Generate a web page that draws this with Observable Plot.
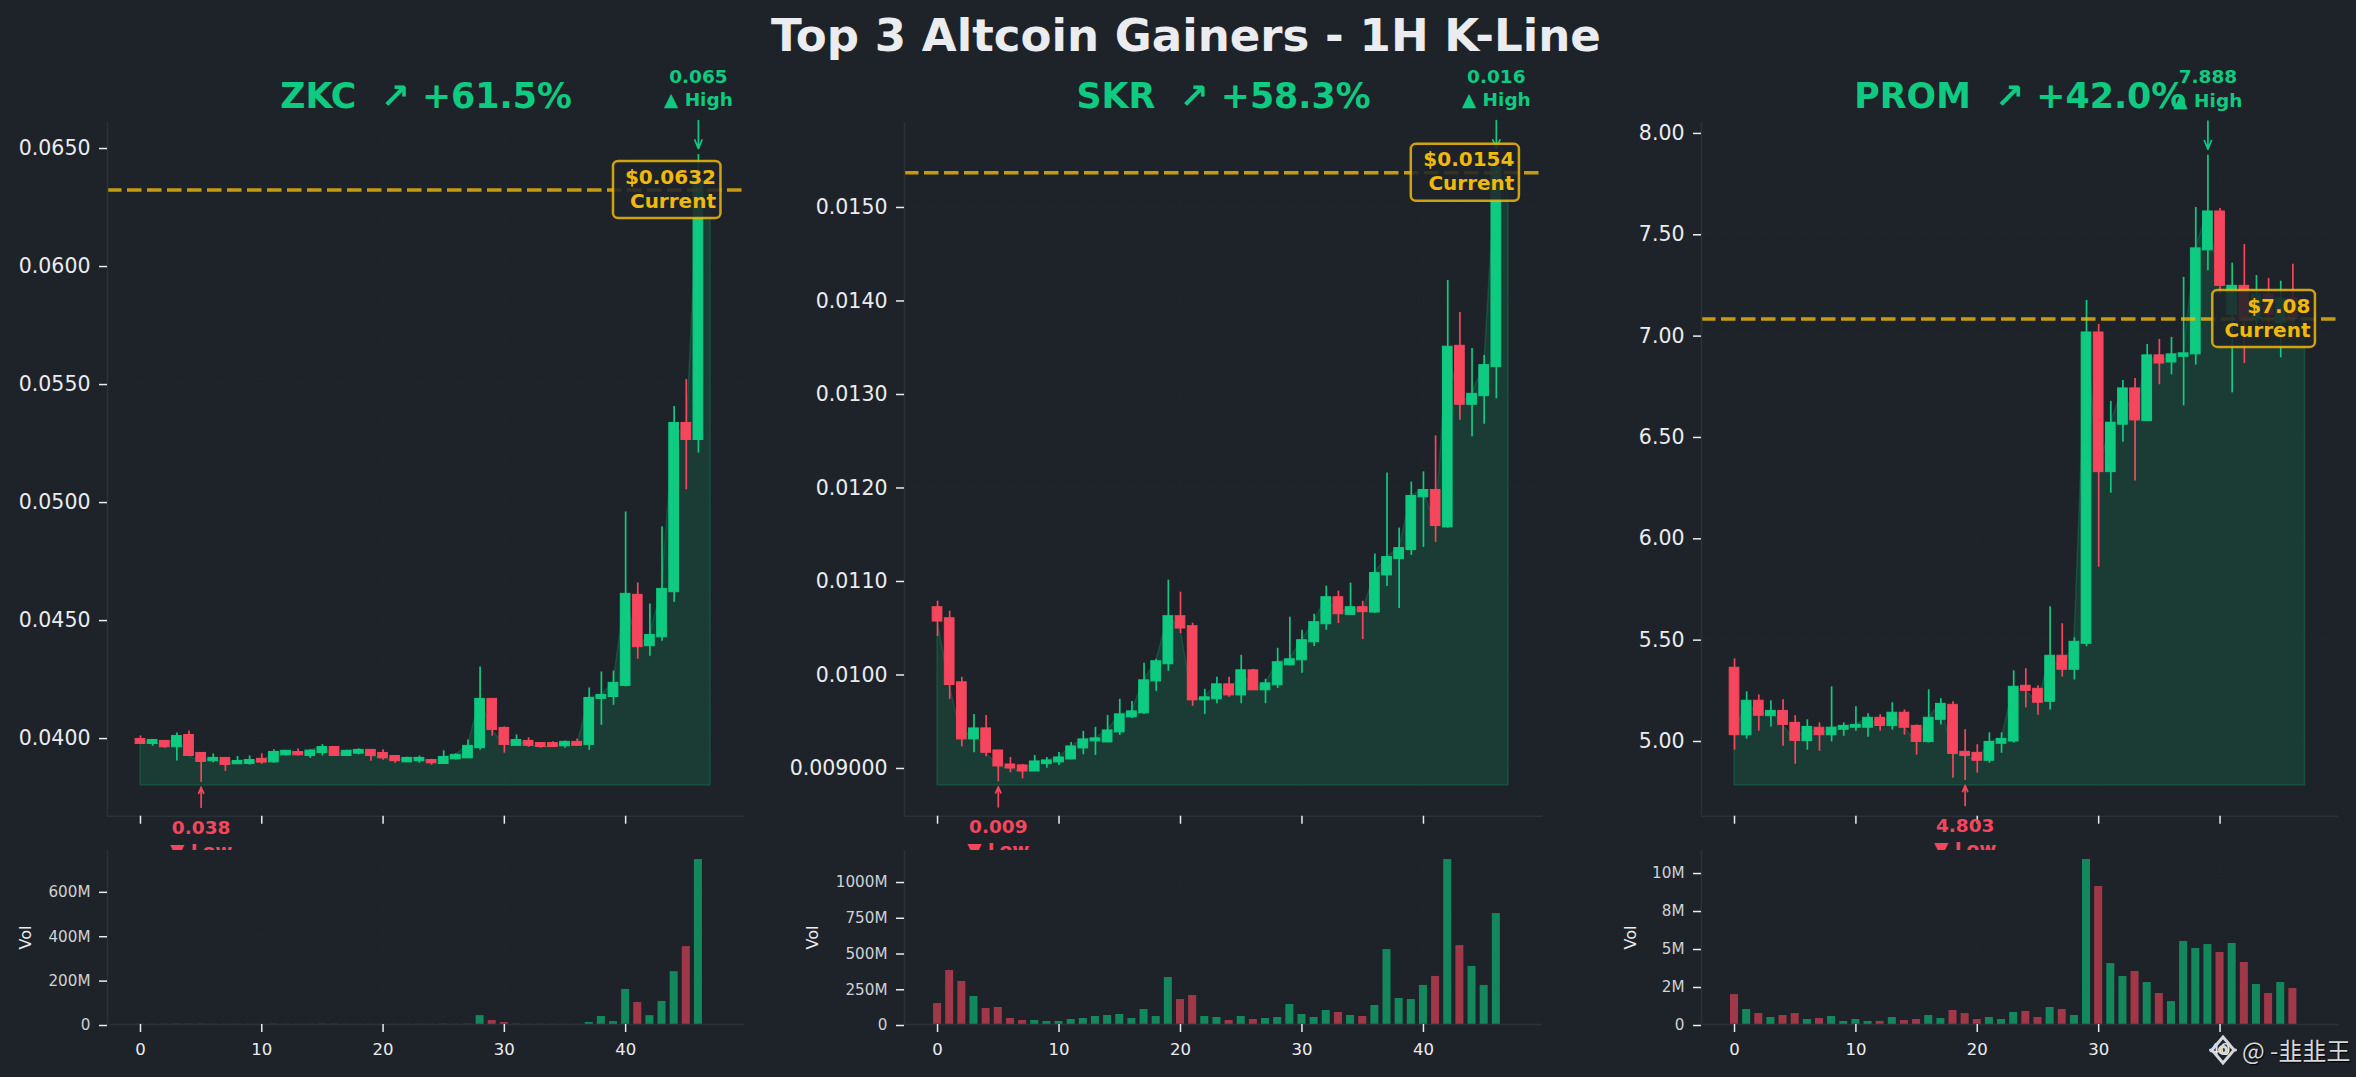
<!DOCTYPE html>
<html>
<head>
<meta charset="utf-8">
<script src="https://cdn.jsdelivr.net/npm/d3@7"></script>
<script src="https://cdn.jsdelivr.net/npm/@observablehq/plot@0.6"></script>
<style>
html,body{margin:0;padding:0;background:#1e2329;}
#stage{position:relative;width:2356px;height:1077px;overflow:hidden;background:#1e2329;font-family:"DejaVu Sans",sans-serif;}
#title{position:absolute;left:0;width:2372px;top:8px;text-align:center;font:bold 45.1px "DejaVu Sans",sans-serif;color:#eaecef;line-height:56px;white-space:nowrap;}
#mark{position:absolute;left:2242px;top:1034px;font:24px "Noto Sans CJK SC","DejaVu Sans",sans-serif;color:#d6d8db;text-shadow:1px 1px 1px #000;white-space:nowrap;line-height:32px;z-index:5;}
#logo{position:absolute;left:2209px;top:1035px;z-index:5;}
</style>
</head>
<body>
<div id="stage">
<div id="title">Top 3 Altcoin Gainers - 1H K-Line</div>
<svg id="logo" width="28" height="30" viewBox="0 0 28 30"><g fill="none" stroke="#d6d8db" stroke-width="3"><path d="M14 2 L25 15 L14 28 L3 15 Z"/><circle cx="14" cy="15" r="3.5"/></g><circle cx="1.5" cy="15" r="1.5" fill="#d6d8db"/><circle cx="26.5" cy="15" r="1.5" fill="#d6d8db"/></svg>
<div id="mark">@ -韭韭王</div>
</div>
<script>
// ---- ZKC ----
const zkcOpen  = [.03994,.03973,.03986,.03959,.04011,.03935,.03900,.03914,.03887,.03888,.03910,.03895,.03925,.03939,.03922,.03935,.03960,.03922,.03932,.03948,.03935,.03922,.03895,.03900,.03905,.03888,.03908,.03912,.03955,.04164,.04041,.03965,.03986,.03977,.03977,.03963,.03982,.03969,.04164,.04172,.04219,.04605,.04387,.04425,.04616,.05333,.05261];
const zkcClose = [.03973,.03990,.03959,.04007,.03922,.03897,.03914,.03884,.03901,.03905,.03894,.03939,.03944,.03925,.03945,.03960,.03922,.03944,.03948,.03922,.03912,.03900,.03914,.03914,.03891,.03918,.03927,.03965,.04164,.04032,.03969,.03990,.03965,.03960,.03960,.03982,.03965,.04168,.04181,.04232,.04609,.04383,.04435,.04630,.05333,.05261,.06360];
const zkcHigh  = [.04007,.03990,.03987,.04020,.04028,.03935,.03931,.03914,.03920,.03922,.03931,.03948,.03945,.03952,.03948,.03970,.03960,.03946,.03952,.03948,.03948,.03922,.03917,.03922,.03908,.03944,.03931,.03990,.04299,.04164,.04045,.04011,.03999,.03977,.03982,.03986,.03994,.04210,.04278,.04282,.04956,.04655,.04566,.04893,.05403,.05517,.06470];
const zkcLow   = [.03972,.03963,.03955,.03901,.03922,.03811,.03893,.03857,.03887,.03883,.03887,.03891,.03922,.03922,.03912,.03922,.03922,.03922,.03927,.03900,.03904,.03891,.03895,.03891,.03883,.03887,.03905,.03912,.03946,.04006,.03934,.03965,.03959,.03955,.03958,.03955,.03965,.03946,.04052,.04137,.04215,.04332,.04345,.04408,.04573,.05050,.05206];
const zkcVol   = [1,.5,.5,1,1,1,.5,.5,.5,.5,.5,1,.5,.5,.5,1,1,.5,.5,.5,.5,.5,.5,.5,.5,1,.5,1,40,18,9,1,.5,.5,.5,.5,.5,9,36,13,158,99,40,104,238,351,743];
// ---- SKR ----
const skrOpen  = [.010714,.010596,.009911,.009300,.009418,.009182,.009032,.009022,.008957,.009036,.009054,.009086,.009204,.009279,.009268,.009375,.009536,.009579,.009921,.010104,.010618,.010511,.009718,.009729,.009889,.009771,.010039,.009825,.009879,.010093,.010146,.010339,.010532,.010821,.010632,.010714,.010657,.011054,.011229,.011325,.011889,.011968,.011568,.013510,.012879,.012971,.013282];
const skrClose = [.010561,.009882,.009300,.009418,.009157,.009011,.008989,.008957,.009064,.009075,.009107,.009225,.009300,.009311,.009396,.009568,.009600,.009932,.010136,.010618,.010486,.009718,.009750,.009889,.009771,.010039,.009825,.009900,.010125,.010157,.010361,.010554,.010821,.010639,.010714,.010661,.011079,.011250,.011346,.011904,.011968,.011582,.013500,.012879,.012996,.013303,.015420];
const skrHigh  = [.010778,.010671,.009964,.009568,.009557,.009182,.009107,.009032,.009129,.009107,.009161,.009268,.009386,.009429,.009557,.009729,.009707,.010114,.010157,.011003,.010875,.010543,.009836,.009964,.009964,.010200,.010050,.009943,.010275,.010607,.010468,.010639,.010939,.010886,.010971,.010778,.011282,.012150,.011560,.012053,.012161,.012546,.014208,.013866,.013480,.013406,.015556];
const skrLow   = [.010400,.009729,.009221,.009157,.009114,.008847,.008943,.008879,.008957,.008993,.009021,.009086,.009136,.009129,.009268,.009343,.009525,.009568,.009814,.010029,.010432,.009654,.009568,.009682,.009750,.009682,.009825,.009682,.009846,.010086,.010007,.010293,.010468,.010539,.010629,.010368,.010646,.010936,.010700,.011268,.011354,.011407,.011560,.012714,.012536,.012671,.012943];
const skrVol   = [147,378,301,196,112,119,42,28,28,21,21,35,42,56,63,70,42,105,56,329,175,203,56,49,28,56,35,42,49,140,70,49,98,84,63,56,133,524,182,175,273,336,1154,552,406,273,776];
// ---- PROM ----
const promOpen  = [5.359,5.026,5.196,5.120,5.146,5.087,4.997,5.063,5.026,5.053,5.063,5.063,5.112,5.071,5.137,5.072,4.992,5.102,5.176,4.944,4.939,4.900,4.984,4.995,5.270,5.255,5.191,5.418,5.349,5.477,7.013,6.324,6.558,6.737,6.576,6.900,6.865,6.893,6.905,7.418,7.610,7.100,7.243,7.080,7.200,7.060,7.180];
const promClose = [5.026,5.196,5.122,5.146,5.077,4.998,5.067,5.026,5.063,5.072,5.077,5.112,5.072,5.137,5.063,4.993,5.112,5.181,4.934,4.924,4.900,4.993,5.008,5.265,5.245,5.186,5.418,5.349,5.487,7.013,6.324,6.568,6.737,6.579,6.900,6.860,6.905,6.910,7.428,7.610,7.243,7.243,7.070,7.200,7.100,7.180,7.080];
const promHigh  = [5.403,5.240,5.225,5.196,5.201,5.122,5.102,5.087,5.265,5.087,5.166,5.132,5.127,5.186,5.151,5.077,5.250,5.206,5.191,5.053,4.979,5.038,5.038,5.344,5.354,5.270,5.660,5.576,5.507,7.171,7.053,6.673,6.776,6.786,6.954,6.979,6.989,7.285,7.630,7.888,7.625,7.355,7.447,7.294,7.280,7.266,7.350];
const promLow   = [4.952,5.007,5.046,5.066,4.972,4.883,4.952,4.947,4.993,5.021,5.046,5.016,5.046,5.051,5.026,4.928,4.988,5.077,4.814,4.803,4.839,4.888,4.937,4.987,5.161,5.125,5.151,5.313,5.298,5.462,5.855,6.220,6.472,6.280,6.576,6.755,6.804,6.651,6.852,7.317,7.200,6.715,6.860,7.000,6.980,6.888,6.980];
const promVol   = [1.97,.99,.72,.46,.59,.72,.33,.39,.53,.20,.33,.20,.20,.46,.26,.33,.59,.39,.92,.72,.33,.46,.33,.79,.86,.46,1.12,.99,.59,10.86,9.08,4.01,3.16,3.49,2.76,2.04,1.51,5.46,5.00,5.26,4.74,5.33,4.08,2.63,2.04,2.76,2.37];

const xTicks = [0,10,20,30,40];
const zkcPriceTicks = [.04,.045,.05,.055,.06,.065];
const zkcPriceLabels = ["0.0400","0.0450","0.0500","0.0550","0.0600","0.0650"];
const skrPriceTicks = [.009,.01,.011,.012,.013,.014,.015];
const skrPriceLabels = ["0.009000","0.0100","0.0110","0.0120","0.0130","0.0140","0.0150"];
const promPriceTicks = [5,5.5,6,6.5,7,7.5,8];
const promPriceLabels = ["5.00","5.50","6.00","6.50","7.00","7.50","8.00"];
const zkcVolTicks = [0,200,400,600];
const zkcVolLabels = ["0","200M","400M","600M"];
const skrVolTicks = [0,250,500,750,1000];
const skrVolLabels = ["0","250M","500M","750M","1000M"];
const promVolTicks = [0,2.5,5,7.5,10];
const promVolLabels = ["0","2M","5M","8M","10M"];

const GREEN="#0ecb81", RED="#f6465d", GOLD="#f0b90b", SPINE="#2b3139", TEXT="#eaecef", BG="#1e2329";
const TOP=122, BOTTOM=815.7, VTOP=850, VBOTTOM=1024;
const xDomain=[-2.72,49.8];

const panels=[
 {name:"ZKC",title:"ZKC\u00A0\u00A0↗ +61.5%",left:107,right:744,labelGap:82,
  o:zkcOpen,c:zkcClose,h:zkcHigh,l:zkcLow,v:zkcVol,current:.0632,curText:"$0.0632",hiText:"0.065",loText:"0.038",base:.03797,boxX:[39.0,47.86],
  yDomain:[.03667,.06606],pt:zkcPriceTicks,pl:zkcPriceLabels,vt:zkcVolTicks,vl:zkcVolLabels,vMax:784},
 {name:"SKR",title:"SKR\u00A0\u00A0↗ +58.3%",left:904,right:1542,labelGap:91.5,
  o:skrOpen,c:skrClose,h:skrHigh,l:skrLow,v:skrVol,current:.01536,curText:"$0.0154",hiText:"0.016",loText:"0.009",base:.008807,boxX:[39.0,47.9],
  yDomain:[.008479,.015898],pt:skrPriceTicks,pl:skrPriceLabels,vt:skrVolTicks,vl:skrVolLabels,vMax:1217},
 {name:"PROM",title:"PROM\u00A0\u00A0↗ +42.0%",left:1700.5,right:2338,labelGap:70.5,
  o:promOpen,c:promClose,h:promHigh,l:promLow,v:promVol,current:7.08,curText:"$7.08",hiText:"7.888",loText:"4.803",base:4.778,boxX:[39.4,47.86],
  yDomain:[4.6265,8.049],pt:promPriceTicks,pl:promPriceLabels,vt:promVolTicks,vl:promVolLabels,vMax:11.45}
];

const stage=document.getElementById("stage");
const mark=document.getElementById("mark");
const font="DejaVu Sans";

function place(svg,left,top){svg.style.position="absolute";svg.style.left=left+"px";svg.style.top=top+"px";svg.style.maxWidth="none";svg.style.height="auto";stage.insertBefore(svg,mark);}

for(const p of panels){
  const rows=p.o.map((o,i)=>({i,o,c:p.c[i],h:p.h[i],l:p.l[i],v:p.v[i],dir:p.c[i]>=o?"up":"down"}));
  const areaRows=[...rows.map(r=>({x:r.i,y:r.c})),{x:rows.length,y:p.current}];
  const perPx=(p.yDomain[1]-p.yDomain[0])/(BOTTOM-TOP);
  const hiIdx=d3.greatestIndex(p.h), loIdx=d3.leastIndex(p.l);
  const hi=p.h[hiIdx], lo=p.l[loIdx];
  const marginLeft=Math.min(p.left,130), marginRight=12;
  const color={domain:["up","down"],range:[GREEN,RED]};

  const price=Plot.plot({
    width:p.right-p.left+marginLeft+marginRight,height:880,
    marginTop:TOP,marginBottom:880-BOTTOM,marginLeft,marginRight,
    style:{background:"transparent",fontFamily:font,overflow:"visible"},
    x:{domain:xDomain,axis:null},y:{domain:p.yDomain,axis:null},color,
    marks:[
      Plot.gridX(xTicks,{stroke:SPINE,strokeOpacity:.3,strokeDasharray:"1 4"}),
      Plot.gridY(p.pt,{stroke:SPINE,strokeOpacity:.3,strokeDasharray:"1 4"}),
      Plot.area(areaRows,{x1:"x",y1:()=>p.base,y2:"y",fill:GREEN,fillOpacity:.15,stroke:GREEN,strokeOpacity:.2,strokeWidth:1.5}),
      Plot.ruleX(rows,{x:"i",y1:"l",y2:"h",stroke:"dir",strokeWidth:1.7}),
      Plot.rect(rows,{x1:r=>r.i-.4,x2:r=>r.i+.4,y1:"o",y2:"c",fill:"dir",stroke:"dir",strokeWidth:1}),
      Plot.ruleY([p.current],{stroke:GOLD,strokeOpacity:.8,strokeWidth:3.5,strokeDasharray:"14.5 5.5"}),
      Plot.ruleX([xDomain[0]],{stroke:SPINE,strokeWidth:1.5}),
      Plot.ruleY([p.yDomain[0]],{stroke:SPINE,strokeWidth:1.5}),
      Plot.axisY({ticks:p.pt,tickFormat:d=>p.pl[p.pt.indexOf(d)],tickSize:8,tickPadding:9,dy:1,label:null,stroke:TEXT,strokeWidth:1.5,fill:TEXT,fontSize:20.5}),
      Plot.axisX({ticks:xTicks,tickSize:8,label:null,stroke:TEXT,strokeWidth:1.5,fill:"none",anchor:"bottom"}),
      Plot.arrow([0],{x1:()=>hiIdx,x2:()=>hiIdx,y1:()=>hi+34*perPx,y2:()=>hi+6*perPx,stroke:GREEN,strokeWidth:1.7,headLength:10,headAngle:45,bend:0}),
      Plot.arrow([0],{x1:()=>loIdx,x2:()=>loIdx,y1:()=>lo-25*perPx,y2:()=>lo-5*perPx,stroke:RED,strokeWidth:1.7,headLength:10,headAngle:45,bend:0}),
      Plot.text([`${p.hiText}\n▲ High`],{x:()=>hiIdx,y:()=>hi,dy:-67.5,fill:GREEN,fontSize:18.5,fontWeight:"bold",lineHeight:1.25,lineAnchor:"middle"}),
      Plot.text([`${p.loText}\n▼ Low`],{x:()=>loIdx,y:()=>lo,dy:55.5,fill:RED,fontSize:18.5,fontWeight:"bold",lineHeight:1.25,lineAnchor:"middle"}),
      Plot.rect([p.current],{x1:()=>p.boxX[0],x2:()=>p.boxX[1],y1:d=>d,y2:d=>d,insetTop:-28.5,insetBottom:-28.5,rx:5,fill:BG,fillOpacity:.88,stroke:GOLD,strokeOpacity:.85,strokeWidth:2.5}),
      Plot.text([`${p.curText}\nCurrent`],{x:()=>p.boxX[1],y:()=>p.current,dx:-5,dy:-2,textAnchor:"end",fill:GOLD,fontSize:20,fontWeight:"bold",lineHeight:1.2,lineAnchor:"middle"}),
      Plot.text([p.title],{frameAnchor:"top",dy:-26,fill:GREEN,fontSize:34.8,fontWeight:"bold",lineAnchor:"middle"})
    ]
  });
  place(price,p.left-marginLeft,0);

  const vol=Plot.plot({
    width:p.right-p.left+marginLeft+marginRight,height:227,
    marginTop:0,marginBottom:227-(VBOTTOM-VTOP),marginLeft,marginRight,
    style:{background:BG,fontFamily:font,overflow:"visible"},
    x:{domain:xDomain,axis:null},y:{domain:[0,p.vMax],axis:null},color,
    marks:[
      Plot.gridX(xTicks,{stroke:SPINE,strokeOpacity:.3,strokeDasharray:"1 4"}),
      Plot.gridY(p.vt,{stroke:SPINE,strokeOpacity:.3,strokeDasharray:"1 4"}),
      Plot.rectY(rows,{x1:r=>r.i-.33,x2:r=>r.i+.33,y1:()=>0,y2:"v",fill:"dir",fillOpacity:.6}),
      Plot.ruleX([xDomain[0]],{stroke:SPINE,strokeWidth:1.5}),
      Plot.ruleY([0],{stroke:SPINE,strokeWidth:1.5}),
      Plot.axisY({ticks:p.vt,tickFormat:d=>p.vl[p.vt.indexOf(d)],tickSize:8,tickPadding:9,dy:1,label:null,stroke:TEXT,strokeWidth:1.5,fill:"#cfd2d6",fontSize:15.2}),
      Plot.axisX({ticks:xTicks,tickSize:8,tickPadding:11,label:null,stroke:TEXT,strokeWidth:1.5,fill:TEXT,fontSize:16.5,anchor:"bottom"}),
      Plot.text(["Vol"],{frameAnchor:"left",dx:-p.labelGap,textAnchor:"middle",rotate:-90,fill:TEXT,fontSize:16})
    ]
  });
  place(vol,p.left-marginLeft,VTOP);
}
</script>
</body>
</html>
